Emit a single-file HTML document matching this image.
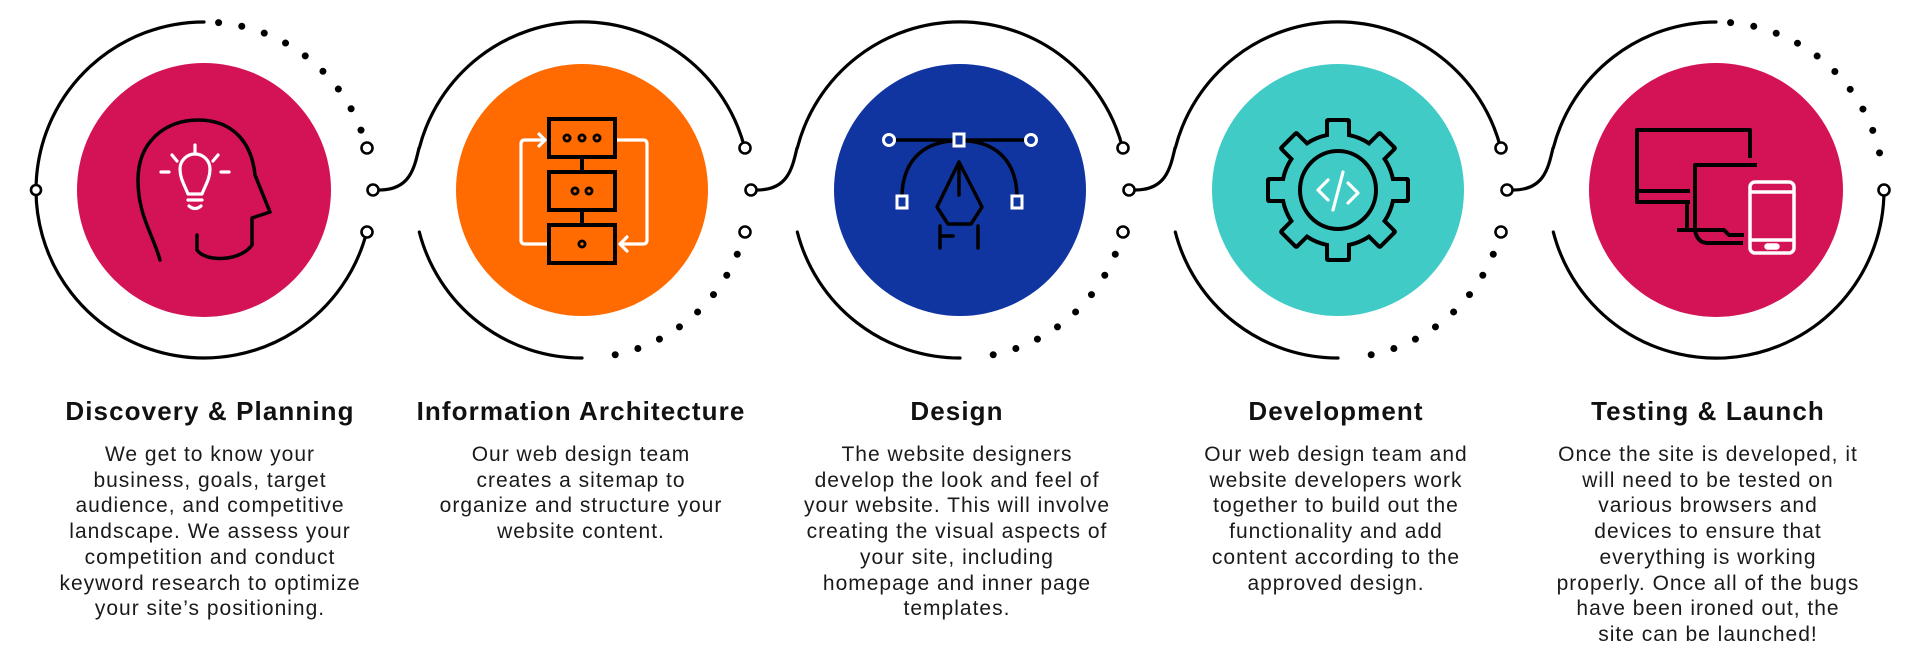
<!DOCTYPE html>
<html><head><meta charset="utf-8"><style>
html,body{margin:0;padding:0;background:#fff;}
#wrap{position:relative;width:1920px;height:666px;overflow:hidden;font-family:"Liberation Sans",sans-serif;color:#111;}
svg{position:absolute;left:0;top:0;}
.h{position:absolute;width:440px;text-align:center;font-weight:bold;font-size:26px;line-height:30px;top:396px;letter-spacing:1.1px;}
.b{position:absolute;width:440px;text-align:center;font-size:21px;line-height:25.7px;top:442px;color:#1a1a1a;letter-spacing:1px;}
</style></head><body><div id="wrap">
<svg width="1920" height="666" viewBox="0 0 1920 666">
<g fill="none" stroke="#000" stroke-width="3.2" stroke-linecap="round">
<path d="M366.7,232 A168,168 0 1 1 204,22"/>
<path d="M218.6,22.6 A168,168 0 0 1 366.7,148" stroke-width="7" stroke-dasharray="0 23.5"/>
<path d="M379,190 C409,190 414,170 419,148"/>
<path d="M757,190 C787,190 792,170 797,148"/>
<path d="M1135,190 C1165,190 1170,170 1175,148"/>
<path d="M1513,190 C1543,190 1548,170 1553,148"/>
<path d="M419.3,148 A168,168 0 0 1 744.7,148"/>
<path d="M419.3,232 A168,168 0 0 0 582,358"/>
<path d="M744.7,232 A168,168 0 0 1 596.6,357.4" stroke-width="7" stroke-dasharray="0 23.5"/>
<path d="M797.3,148 A168,168 0 0 1 1122.7,148"/>
<path d="M797.3,232 A168,168 0 0 0 960,358"/>
<path d="M1122.7,232 A168,168 0 0 1 974.6,357.4" stroke-width="7" stroke-dasharray="0 23.5"/>
<path d="M1175.3,148 A168,168 0 0 1 1500.7,148"/>
<path d="M1175.3,232 A168,168 0 0 0 1338,358"/>
<path d="M1500.7,232 A168,168 0 0 1 1352.6,357.4" stroke-width="7" stroke-dasharray="0 23.5"/>
<path d="M1553.3,148 A168,168 0 0 1 1716,22"/>
<path d="M1553.3,232 A168,168 0 0 0 1884,190"/>
<path d="M1730.6,22.6 A168,168 0 0 1 1883,175" stroke-width="7" stroke-dasharray="0 23.5"/>
</g>
<g fill="#fff" stroke="#000" stroke-width="2.6">
<circle cx="36" cy="190" r="5"/>
<circle cx="367" cy="148" r="5.5"/><circle cx="373" cy="190" r="5.5"/><circle cx="367" cy="232" r="5.5"/>
<circle cx="745" cy="148" r="5.5"/><circle cx="751" cy="190" r="5.5"/><circle cx="745" cy="232" r="5.5"/>
<circle cx="1123" cy="148" r="5.5"/><circle cx="1129" cy="190" r="5.5"/><circle cx="1123" cy="232" r="5.5"/>
<circle cx="1501" cy="148" r="5.5"/><circle cx="1507" cy="190" r="5.5"/><circle cx="1501" cy="232" r="5.5"/>
<circle cx="1884" cy="190" r="5.5"/>
</g>
<circle cx="204" cy="190" r="127" fill="#D41256"/>
<circle cx="582" cy="190" r="126" fill="#FF6B00"/>
<circle cx="960" cy="190" r="126" fill="#1035A0"/>
<circle cx="1338" cy="190" r="126" fill="#41CBC6"/>
<circle cx="1716" cy="190" r="127" fill="#D41256"/>

<path d="M160,260 C152,232 138,215 138,180 C138,142 165,120 198,120 C235,120 252,145 255,175 L270,212 L252,218 L252,245 C240,262 205,262 197,250 L197,235" fill="none" stroke="#000" stroke-width="3.5" stroke-linejoin="round" stroke-linecap="round"/>
<g fill="none" stroke="#fff" stroke-width="3.2" stroke-linecap="round" stroke-linejoin="round">
<path d="M188,194 C184,184 180,178 180,169 A15,15 0 1 1 210,169 C210,178 206,184 202,194 Z"/>
<path d="M188,200 H202 M189,206 Q195,211 201,206"/>
<path d="M195,145 V152 M172,155 L177,161 M218,155 L213,161 M161,172 H169 M221,172 H229"/>
</g>

<g fill="none" stroke="#fff" stroke-width="3.2" stroke-linecap="round" stroke-linejoin="round">
<path d="M549,244 H525 Q521,244 521,240 V144 Q521,140 525,140 H545 M539,134 L545,140 L539,146"/>
<path d="M615,140 H643 Q647,140 647,144 V240 Q647,244 643,244 H620 M627,237 L620,244 L627,251"/>
</g>
<g fill="none" stroke="#000" stroke-width="4">
<rect x="549" y="119" width="66" height="38"/>
<rect x="549" y="172" width="66" height="38"/>
<rect x="549" y="225" width="66" height="38"/>
<path d="M582,157 V172 M582,210 V225"/>
</g>
<g fill="#000"><circle cx="567" cy="138" r="4.5"/><circle cx="582" cy="138" r="4.5"/><circle cx="597" cy="138" r="4.5"/>
<circle cx="575" cy="191" r="4.5"/><circle cx="589" cy="191" r="4.5"/><circle cx="582" cy="244" r="4.5"/></g>
<g fill="#FF6B00"><circle cx="567" cy="138" r="1.6"/><circle cx="582" cy="138" r="1.6"/><circle cx="597" cy="138" r="1.6"/>
<circle cx="575" cy="191" r="1.6"/><circle cx="589" cy="191" r="1.6"/><circle cx="582" cy="244" r="1.6"/></g>

<g fill="none" stroke="#000" stroke-width="3.5" stroke-linecap="round" stroke-linejoin="round">
<path d="M897,140 H952 M967,140 H1023"/>
<path d="M952,141 C922,143 903,162 902,195 M967,141 C997,143 1016,162 1017,195"/>
<path d="M959,162 L937,207 L948,224 H971 L982,207 Z M959,162 V195"/>
<path d="M940,226 V248 M940,236 H953 M978,226 V248"/>
</g>
<g fill="#1035A0" stroke="#fff" stroke-width="3">
<circle cx="889" cy="140" r="5.5"/><circle cx="1031" cy="140" r="5.5"/>
<rect x="954" y="134" width="10" height="12"/>
<rect x="897" y="196" width="10" height="12"/><rect x="1012" y="196" width="10" height="12"/>
</g>

<g transform="translate(1338,190)">
<g fill="#000">
<circle r="58"/>
<rect x="-13" y="-72" width="26" height="24" rx="3" transform="rotate(0)"/>
<rect x="-13" y="-72" width="26" height="24" rx="3" transform="rotate(45)"/>
<rect x="-13" y="-72" width="26" height="24" rx="3" transform="rotate(90)"/>
<rect x="-13" y="-72" width="26" height="24" rx="3" transform="rotate(135)"/>
<rect x="-13" y="-72" width="26" height="24" rx="3" transform="rotate(180)"/>
<rect x="-13" y="-72" width="26" height="24" rx="3" transform="rotate(225)"/>
<rect x="-13" y="-72" width="26" height="24" rx="3" transform="rotate(270)"/>
<rect x="-13" y="-72" width="26" height="24" rx="3" transform="rotate(315)"/>
</g>
<g fill="#41CBC6">
<circle r="54"/>
<rect x="-9" y="-68" width="18" height="22" rx="1" transform="rotate(0)"/>
<rect x="-9" y="-68" width="18" height="22" rx="1" transform="rotate(45)"/>
<rect x="-9" y="-68" width="18" height="22" rx="1" transform="rotate(90)"/>
<rect x="-9" y="-68" width="18" height="22" rx="1" transform="rotate(135)"/>
<rect x="-9" y="-68" width="18" height="22" rx="1" transform="rotate(180)"/>
<rect x="-9" y="-68" width="18" height="22" rx="1" transform="rotate(225)"/>
<rect x="-9" y="-68" width="18" height="22" rx="1" transform="rotate(270)"/>
<rect x="-9" y="-68" width="18" height="22" rx="1" transform="rotate(315)"/>
</g>
<ellipse rx="38" ry="39" fill="none" stroke="#000" stroke-width="4"/>
<g fill="none" stroke="#fff" stroke-width="3.2" stroke-linecap="round" stroke-linejoin="round">
<path d="M-10,-10 L-20,0 L-10,10 M10,-7 L20,3 L10,13 M5,-18 L-5,20"/>
</g>
</g>

<g fill="none" stroke="#000" stroke-width="4" stroke-linejoin="round">
<path d="M1750,158 V130 H1637 V202 H1690 M1637,191 H1690 M1687,202 V230 M1677,230 H1700"/>
<path d="M1695,232 V165 H1757 M1695,230 Q1697,243 1708,243 H1743 M1700,230 H1724 L1729,235 H1744"/>
</g>
<g fill="none" stroke="#fff" stroke-width="3.5">
<rect x="1750" y="182" width="44" height="71" rx="5"/>
<path d="M1751,192 H1793 M1751,240 H1793"/>
<rect x="1766" y="245" width="12" height="3" rx="1.5"/>
</g>
</svg>

<div class="h" style="left:-10px">Discovery &amp; Planning</div>
<div class="b" style="left:-10px">We get to know your<br>business, goals, target<br>audience, and competitive<br>landscape. We assess your<br>competition and conduct<br>keyword research to optimize<br>your site’s positioning.</div>

<div class="h" style="left:361px">Information Architecture</div>
<div class="b" style="left:361px">Our web design team<br>creates a sitemap to<br>organize and structure your<br>website content.</div>

<div class="h" style="left:737px">Design</div>
<div class="b" style="left:737px">The website designers<br>develop the look and feel of<br>your website. This will involve<br>creating the visual aspects of<br>your site, including<br>homepage and inner page<br>templates.</div>

<div class="h" style="left:1116px">Development</div>
<div class="b" style="left:1116px">Our web design team and<br>website developers work<br>together to build out the<br>functionality and add<br>content according to the<br>approved design.</div>

<div class="h" style="left:1488px">Testing &amp; Launch</div>
<div class="b" style="left:1488px">Once the site is developed, it<br>will need to be tested on<br>various browsers and<br>devices to ensure that<br>everything is working<br>properly. Once all of the bugs<br>have been ironed out, the<br>site can be launched!</div>
</div></body></html>
